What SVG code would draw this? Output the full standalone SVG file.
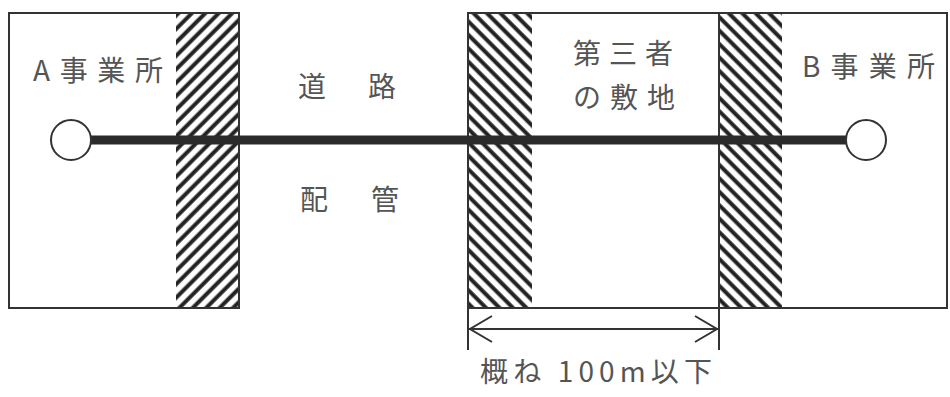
<svg xmlns="http://www.w3.org/2000/svg" width="950" height="397" viewBox="0 0 950 397">
<defs>
<style>
.box{fill:#fff;stroke:#333;stroke-width:2}
.lbl{font-family:"Noto Sans CJK JP","Noto Sans",sans-serif;font-size:28px;fill:#555}
.pipe{stroke:#2b2b2b;stroke-width:9;fill:none}
.dim{stroke:#333;stroke-width:2;fill:none}
.end{fill:#fff;stroke:#333;stroke-width:2}
</style>
<pattern id="hatchR" patternUnits="userSpaceOnUse" width="9.5" height="9.5" patternTransform="rotate(45)">
<rect width="9.5" height="9.5" fill="#fff"/>
<line x1="2.5" y1="0" x2="2.5" y2="9.5" stroke="#222" stroke-width="4"/>
</pattern>
<pattern id="hatchL" patternUnits="userSpaceOnUse" width="9.5" height="9.5" patternTransform="rotate(-45)">
<rect width="9.5" height="9.5" fill="#fff"/>
<line x1="2.5" y1="0" x2="2.5" y2="9.5" stroke="#222" stroke-width="4"/>
</pattern>
</defs>
<rect width="950" height="397" fill="#fff"/>

<g id="siteA">
<rect class="box" x="9" y="13" width="230" height="295"/>
<rect x="176" y="14" width="62" height="293" fill="url(#hatchR)"/>
<text class="lbl" x="33" y="81" textLength="130" lengthAdjust="spacing">A事業所</text>
</g>

<g id="road">
<text class="lbl" x="298" y="97">道</text>
<text class="lbl" x="368" y="97">路</text>
<text class="lbl" x="300" y="210">配</text>
<text class="lbl" x="371" y="210">管</text>
</g>

<g id="thirdParty">
<rect class="box" x="468" y="13" width="251" height="295"/>
<rect x="469" y="14" width="63" height="293" fill="url(#hatchL)"/>
<text class="lbl" x="573" y="64" textLength="100" lengthAdjust="spacing">第三者</text>
<text class="lbl" x="573" y="108" textLength="102" lengthAdjust="spacing">の敷地</text>
</g>

<g id="siteB">
<rect class="box" x="719" y="13" width="228" height="295"/>
<rect x="720" y="14" width="62" height="293" fill="url(#hatchL)"/>
<text class="lbl" x="802" y="77" textLength="133" lengthAdjust="spacing">B事業所</text>
</g>

<g id="connectors">
<line class="pipe" x1="90" y1="140" x2="848" y2="140"/>
<line class="dim" x1="468" y1="308" x2="468" y2="350"/>
<line class="dim" x1="719" y1="308" x2="719" y2="350"/>
<line class="dim" x1="469" y1="329" x2="718" y2="329"/>
<polyline class="dim" points="492,316 470,329 492,342"/>
<polyline class="dim" points="695,316 717,329 695,342"/>
</g>

<g id="pointA"><circle class="end" cx="71" cy="140" r="20"/></g>
<g id="pointB"><circle class="end" cx="866" cy="140" r="20"/></g>

<g id="distance">
<text class="lbl" x="480" y="382" textLength="232" lengthAdjust="spacing">概ね 100m以下</text>
</g>
</svg>
